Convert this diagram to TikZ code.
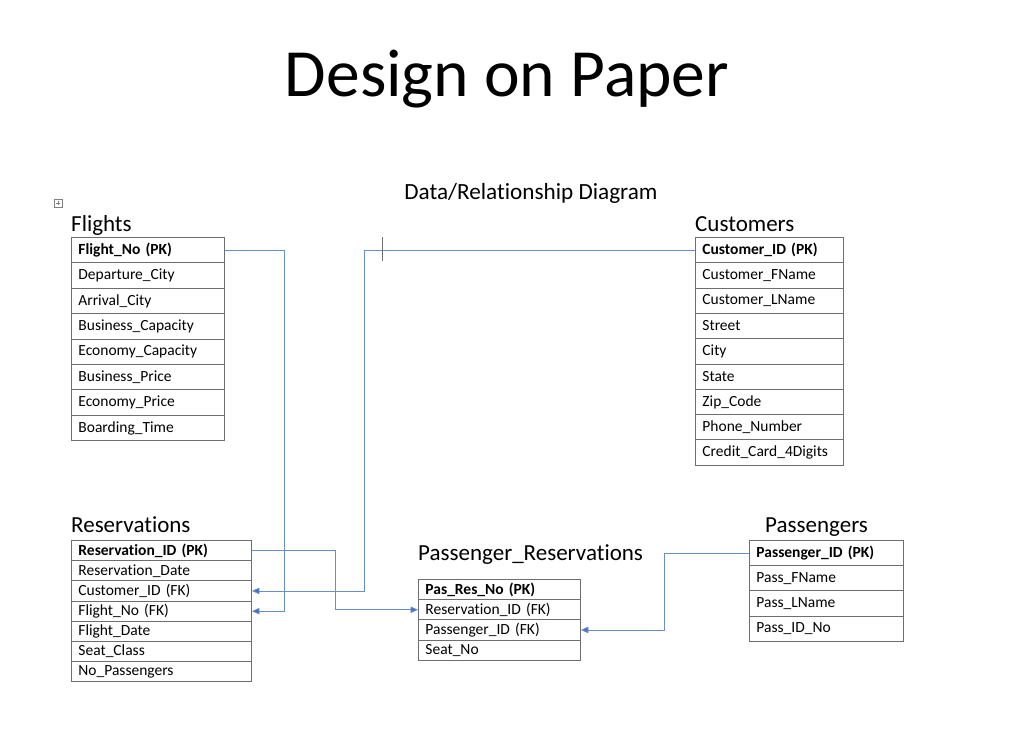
\documentclass[tikz,border=0pt]{standalone}
\usepackage{fontspec}
\setmainfont{Carlito}[Ligatures=NoCommon]
\usetikzlibrary{arrows.meta}
\definecolor{linkblue}{HTML}{4472C4}
\definecolor{gridgray}{HTML}{6E6E6E}
\newcommand\cellfont{\fontsize{15.5}{17}\selectfont}
\newcommand\headfont{\fontsize{23}{26}\selectfont}
\tikzset{
  cell/.style 2 args={draw=gridgray, line width=0.9pt, anchor=north west, inner xsep=7pt, inner ysep=0pt,
    text width=#1, minimum height=#2, align=left, font=\cellfont},
  tabtitle/.style={anchor=base west, inner sep=0pt, font=\headfont},
  link/.style={draw=linkblue!80, line width=0.8pt},
  linkarrow/.style={link, -{Triangle[length=7.5pt,width=6.5pt,fill=linkblue]}},
}
\begin{document}
\begin{tikzpicture}[x=1pt,y=-1pt]
\useasboundingbox (0,0) rectangle (1024,733);
% titles
\node[anchor=base, inner sep=0pt, font=\fontsize{67.5}{70}\selectfont] (title) at (507,97) {Design on Paper};
\node[anchor=base, inner sep=0pt, font=\fontsize{23.2}{26}\selectfont] (subtitle) at (531,199) {Data/Relationship Diagram};
% small icon
\node[draw=gray, line width=0.5pt, minimum size=8pt, inner sep=0pt] (icon) at (58,203) {};
\draw[gray, line width=0.5pt] (icon.west) ++(2,0) -- ++(4,0) (icon.north) ++(0,2) -- ++(0,4);
% Flights
\node[tabtitle] (flightsT) at (71,231) {Flights};
\node[cell={139pt}{25.4pt}] (f1) at (71,237) {\textbf{Flight\_No (PK)}};
\foreach \t [count=\i from 2] in {Departure\_City, Arrival\_City, Business\_Capacity, Economy\_Capacity, Business\_Price, Economy\_Price, Boarding\_Time}
  \node[cell={139pt}{25.4pt}] (f\i) at (71,{237+(\i-1)*25.4}) {\t};
% Customers
\node[tabtitle] (custT) at (695,231) {Customers};
\node[cell={134pt}{25.3pt}] (c1) at (695,237) {\textbf{Customer\_ID (PK)}};
\foreach \t [count=\i from 2] in {Customer\_FName, Customer\_LName, Street, City, State, Zip\_Code, Phone\_Number, Credit\_Card\_4Digits}
  \node[cell={134pt}{25.3pt}] (c\i) at (695,{237+(\i-1)*25.3}) {\t};
% Reservations
\node[tabtitle] (resT) at (71,532) {Reservations};
\node[cell={166pt}{20.2pt}] (r1) at (71,540) {\textbf{Reservation\_ID (PK)}};
\foreach \t [count=\i from 2] in {Reservation\_Date, Customer\_ID (FK), Flight\_No (FK), Flight\_Date, Seat\_Class, No\_Passengers}
  \node[cell={166pt}{20.2pt}] (r\i) at (71,{540+(\i-1)*20.2}) {\t};
% Passenger_Reservations
\node[tabtitle] (prT) at (418,560) {Passenger\_Reservations};
\node[cell={148pt}{20.2pt}] (p1) at (418,579) {\textbf{Pas\_Res\_No (PK)}};
\foreach \t [count=\i from 2] in {Reservation\_ID (FK), Passenger\_ID (FK), Seat\_No}
  \node[cell={148pt}{20.2pt}] (p\i) at (418,{579+(\i-1)*20.2}) {\t};
% Passengers
\node[tabtitle] (pasT) at (765,532) {Passengers};
\node[cell={140pt}{25.2pt}] (s1) at (749,540) {\textbf{Passenger\_ID (PK)}};
\foreach \t [count=\i from 2] in {Pass\_FName, Pass\_LName, Pass\_ID\_No}
  \node[cell={140pt}{25.2pt}] (s\i) at (749,{540+(\i-1)*25.2}) {\t};
% connectors
\draw[linkarrow] (f1.east) -| (284,0 |- r4.east) -- (r4.east);
\draw[linkarrow] (c1.west) -| (364,0 |- r3.east) -- (r3.east);
\draw[linkarrow] (r1.east) -| (335,0 |- p2.west) -- (p2.west);
\draw[linkarrow] (s1.west) -| (664,0 |- p3.east) -- (p3.east);
% cursor tick
\coordinate (tickTop) at (382,237);
\coordinate (tickBot) at (382,261);
\draw[gridgray, line width=0.8pt] (tickTop) -- (tickBot);
\end{tikzpicture}
\end{document}
